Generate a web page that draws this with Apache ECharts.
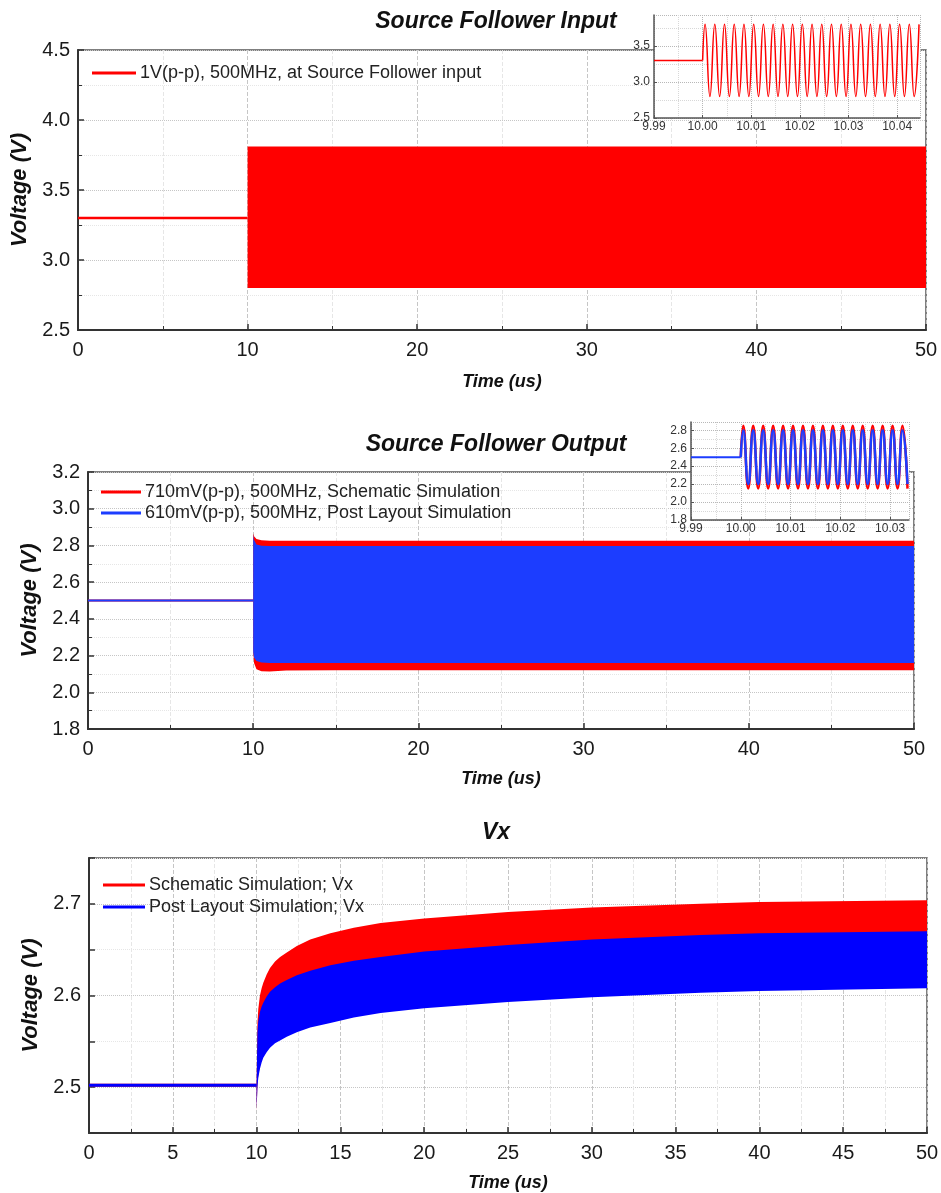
<!DOCTYPE html>
<html>
<head>
<meta charset="utf-8">
<title>Source Follower waveforms</title>
<script src="https://cdn.jsdelivr.net/npm/echarts@6.0.0/dist/echarts.min.js"></script>
<style>
  html, body { margin: 0; padding: 0; background: #fff; }
  #chart { width: 941px; height: 1193px; }
</style>
</head>
<body>
<div id="chart"></div>
<script>
// ---- panel 1 : source follower input ----
const inName = '1V(p-p), 500MHz, at Source Follower input';
const inBaseTime = [0, 10];
const inBaseVolt = [3.3, 3.3];
const inBandTime = [10, 50];
const inBandHigh = [3.81, 3.81];
const inBandLow = [2.8, 2.8];

// inset 1 (zoom around 10 us) : flat level then the sine peaks / troughs
const in1BaseTime = [9.99, 10.0];
const in1BaseVolt = [3.3, 3.3];
const in1Time = [10.0, 10.0005, 10.0015, 10.0025, 10.0035, 10.0045, 10.0055, 10.0065, 10.0075, 10.0085, 10.0095,
  10.0105, 10.0115, 10.0125, 10.0135, 10.0145, 10.0155, 10.0165, 10.0175, 10.0185, 10.0195,
  10.0205, 10.0215, 10.0225, 10.0235, 10.0245, 10.0255, 10.0265, 10.0275, 10.0285, 10.0295,
  10.0305, 10.0315, 10.0325, 10.0335, 10.0345, 10.0355, 10.0365, 10.0375, 10.0385, 10.0395,
  10.0405, 10.0415, 10.0425, 10.0435, 10.0445];
const in1Volt = [3.3, 3.8, 2.8, 3.8, 2.8, 3.8, 2.8, 3.8, 2.8, 3.8, 2.8,
  3.8, 2.8, 3.8, 2.8, 3.8, 2.8, 3.8, 2.8, 3.8, 2.8,
  3.8, 2.8, 3.8, 2.8, 3.8, 2.8, 3.8, 2.8, 3.8, 2.8,
  3.8, 2.8, 3.8, 2.8, 3.8, 2.8, 3.8, 2.8, 3.8, 2.8,
  3.8, 2.8, 3.8, 2.8, 3.8];

// ---- panel 2 : source follower output ----
const outSchName = '710mV(p-p), 500MHz, Schematic Simulation';
const outPostName = '610mV(p-p), 500MHz, Post Layout Simulation';
const outBaseTime = [0, 10];
const outBaseVolt = [2.5, 2.5];
const outBandTime = [10, 10.05, 10.2, 10.5, 11, 12, 15, 30, 50];
const outSchHigh = [2.866, 2.85, 2.835, 2.828, 2.826, 2.826, 2.826, 2.826, 2.826];
const outSchLow = [2.23, 2.16, 2.125, 2.115, 2.113, 2.118, 2.12, 2.12, 2.12];
const outPostHigh = [2.86, 2.83, 2.805, 2.798, 2.797, 2.797, 2.797, 2.797, 2.797];
const outPostLow = [2.22, 2.19, 2.17, 2.162, 2.16, 2.16, 2.16, 2.16, 2.16];

// inset 2
const in2BaseTime = [9.99, 10.0];
const in2BaseVolt = [2.5, 2.5];
const in2Time = [10.0, 10.0005, 10.0015, 10.0025, 10.0035, 10.0045, 10.0055, 10.0065, 10.0075, 10.0085, 10.0095,
  10.0105, 10.0115, 10.0125, 10.0135, 10.0145, 10.0155, 10.0165, 10.0175, 10.0185, 10.0195,
  10.0205, 10.0215, 10.0225, 10.0235, 10.0245, 10.0255, 10.0265, 10.0275, 10.0285, 10.0295,
  10.0305, 10.0315, 10.0325, 10.0335];
const in2SchVolt = [2.5, 2.85, 2.15, 2.85, 2.15, 2.85, 2.15, 2.85, 2.15, 2.85, 2.15,
  2.85, 2.15, 2.85, 2.15, 2.85, 2.15, 2.85, 2.15, 2.85, 2.15,
  2.85, 2.15, 2.85, 2.15, 2.85, 2.15, 2.85, 2.15, 2.85, 2.15,
  2.85, 2.15, 2.85, 2.15];
const in2PostVolt = [2.5, 2.8, 2.2, 2.8, 2.2, 2.8, 2.2, 2.8, 2.2, 2.8, 2.2,
  2.8, 2.2, 2.8, 2.2, 2.8, 2.2, 2.8, 2.2, 2.8, 2.2,
  2.8, 2.2, 2.8, 2.2, 2.8, 2.2, 2.8, 2.2, 2.8, 2.2,
  2.8, 2.2, 2.8, 2.2];

// ---- panel 3 : Vx ----
const vxSchName = 'Schematic Simulation; Vx';
const vxPostName = 'Post Layout Simulation; Vx';
const vxBaseTime = [0, 10];
const vxBaseVolt = [2.502, 2.502];
const vxBandTime = [10, 10.05, 10.1, 10.2, 10.3, 10.4, 10.6, 10.8, 11.1, 11.4, 11.8, 12.4, 13.2, 14.4, 15.8, 17.4, 20, 25, 30, 36.5, 40, 50];
const vxSchHigh = [2.502, 2.57, 2.585, 2.6, 2.608, 2.614, 2.623, 2.63, 2.637, 2.642, 2.647, 2.654, 2.661, 2.668, 2.674, 2.679, 2.684, 2.691, 2.696, 2.7, 2.702, 2.704];
const vxSchLow = [2.474, 2.503, 2.513, 2.523, 2.53, 2.535, 2.541, 2.546, 2.551, 2.554, 2.558, 2.563, 2.568, 2.573, 2.579, 2.584, 2.589, 2.596, 2.601, 2.606, 2.608, 2.611];
const vxPostHigh = [2.502, 2.56, 2.572, 2.582, 2.588, 2.592, 2.599, 2.604, 2.609, 2.613, 2.617, 2.622, 2.627, 2.633, 2.638, 2.642, 2.648, 2.655, 2.661, 2.666, 2.668, 2.67];
const vxPostLow = [2.476, 2.5, 2.51, 2.52, 2.527, 2.532, 2.538, 2.543, 2.548, 2.551, 2.555, 2.56, 2.565, 2.57, 2.576, 2.581, 2.586, 2.593, 2.598, 2.603, 2.605, 2.608];

const RED = '#ff0000';
const BLUE2 = '#1c3dff';
const BLUE3 = '#0000ff';
const FONT = "'Liberation Sans', Arial, sans-serif";

const pairs = (xs, ys) => xs.map((x, i) => [x, ys[i]]);

// filled envelope drawn through the axes (the 500MHz carrier is too dense to draw point by point)
function band(name, gi, times, high, low, color, z) {
  return {
    name: name, type: 'custom', xAxisIndex: gi, yAxisIndex: gi, z: z, silent: true,
    data: times.map((t, i) => [t, high[i], low[i]]),
    encode: { x: 0, y: [1, 2] },
    renderItem: (params, api) => {
      if (params.dataIndex !== 0) return null;
      const top = times.map((t, i) => api.coord([t, high[i]]));
      const bottom = times.map((t, i) => api.coord([t, low[i]])).reverse();
      return { type: 'polygon', shape: { points: top.concat(bottom) }, style: { fill: color } };
    }
  };
}

function line(name, gi, xs, ys, color, width, z, smooth) {
  return {
    name: name, type: 'line', xAxisIndex: gi, yAxisIndex: gi, z: z,
    data: pairs(xs, ys), showSymbol: false, symbol: 'none', silent: true,
    smooth: smooth ? 0.5 : false, animation: false,
    lineStyle: { color: color, width: width }, itemStyle: { color: color }
  };
}

const nameStyle = { fontFamily: FONT, fontSize: 18, fontWeight: 'bold', fontStyle: 'italic', color: '#111' };
const labelStyle = { fontFamily: FONT, fontSize: 20, color: '#1a1a1a' };

function mainX(gi, interval, nameGap) {
  return {
    type: 'value', gridIndex: gi, min: 0, max: 50, interval: interval,
    name: 'Time (us)', nameLocation: 'middle', nameGap: nameGap, nameTextStyle: nameStyle,
    axisLine: { show: true, onZero: false, lineStyle: { color: '#333', width: 2 } },
    axisTick: { show: true, inside: true, length: 6, lineStyle: { color: '#333', width: 1.5 } },
    minorTick: { show: true, splitNumber: 2, length: 4, lineStyle: { color: '#333', width: 1 } },
    axisLabel: Object.assign({ margin: 10 }, labelStyle),
    splitLine: { show: true, lineStyle: { color: '#c6c6c6', type: 'dashed', width: 1 } },
    minorSplitLine: { show: true, lineStyle: { color: '#e6e6e6', type: 'dashed', width: 1 } }
  };
}

function mainY(gi, min, max, interval, nameGap) {
  return {
    type: 'value', gridIndex: gi, min: min, max: max, interval: interval,
    name: 'Voltage (V)', nameLocation: 'middle', nameGap: nameGap,
    nameTextStyle: Object.assign({}, nameStyle, { fontSize: 22 }),
    axisLine: { show: true, onZero: false, lineStyle: { color: '#333', width: 2 } },
    axisTick: { show: true, inside: true, length: 6, lineStyle: { color: '#333', width: 1.5 } },
    minorTick: { show: true, splitNumber: 2, length: 4, lineStyle: { color: '#333', width: 1 } },
    axisLabel: Object.assign({ margin: 8, formatter: v => v.toFixed(1) }, labelStyle),
    splitLine: { show: true, lineStyle: { color: '#c6c6c6', type: 'dotted', width: 1 } },
    minorSplitLine: { show: true, lineStyle: { color: '#e6e6e6', type: 'dotted', width: 1 } }
  };
}

function insetX(gi, min, max) {
  return {
    type: 'value', gridIndex: gi, min: min, max: max, interval: 0.01, z: 6,
    axisLine: { show: true, onZero: false, lineStyle: { color: '#555', width: 1.5 } },
    axisTick: { show: true, inside: true, length: 3, lineStyle: { color: '#555' } },
    axisLabel: { fontFamily: FONT, fontSize: 12, color: '#333', margin: 3, formatter: v => v.toFixed(2) },
    splitLine: { show: true, lineStyle: { color: '#b8b8b8', type: 'dotted', width: 1 } },
    minorSplitLine: { show: true, lineStyle: { color: '#d8d8d8', type: 'dotted', width: 1 } },
    minorTick: { show: false, splitNumber: 2 }
  };
}

function insetY(gi, min, max, interval) {
  return {
    type: 'value', gridIndex: gi, min: min, max: max, interval: interval, z: 6,
    axisLine: { show: true, onZero: false, lineStyle: { color: '#555', width: 1.5 } },
    axisTick: { show: true, inside: true, length: 3, lineStyle: { color: '#555' } },
    axisLabel: { fontFamily: FONT, fontSize: 12, color: '#333', margin: 4, showMaxLabel: false, formatter: v => v.toFixed(1) },
    splitLine: { show: true, lineStyle: { color: '#b8b8b8', type: 'dotted', width: 1 } },
    minorSplitLine: { show: true, lineStyle: { color: '#d8d8d8', type: 'dotted', width: 1 } },
    minorTick: { show: false, splitNumber: 2 }
  };
}

const mainGrid = (left, top, width, height) => ({
  left: left, top: top, width: width, height: height, show: true,
  borderColor: '#555', borderWidth: 1.5, backgroundColor: 'transparent', outerBoundsMode: 'none'
});
const insetGrid = (left, top, width, height) => ({
  left: left, top: top, width: width, height: height, show: true, z: 5,
  borderWidth: 0, backgroundColor: '#fff', outerBoundsMode: 'none'
});

const legendBox = (left, top, names, gap, width) => ({
  left: left, top: top, orient: 'vertical', itemGap: gap, icon: 'rect', padding: 0,
  itemWidth: width, itemHeight: 3, selectedMode: false,
  textStyle: { fontFamily: FONT, fontSize: 18, color: '#222', padding: [0, 0, 0, -1] },
  data: names
});

const titleBox = (text, top) => ({
  text: text, left: 496, top: top, textAlign: 'center', padding: 0,
  textStyle: { fontFamily: FONT, fontSize: 23, fontWeight: 'bold', fontStyle: 'italic', color: '#111' }
});

// panel 3 y axis: ticks every 0.05, labels only on the tenths
const vxY = mainY(2, 2.45, 2.75, 0.05, 41);
vxY.axisLabel.formatter = v => (Math.abs(v * 10 - Math.round(v * 10)) < 1e-6 ? v.toFixed(1) : '');
vxY.splitLine.lineStyle.color = ['#e6e6e6', '#c6c6c6'];
vxY.minorTick.show = false;
vxY.minorSplitLine.show = false;

const chart = echarts.init(document.getElementById('chart'));
chart.setOption({
  animation: false,
  backgroundColor: '#fff',
  title: [
    titleBox('Source Follower Input', 10),
    titleBox('Source Follower Output', 433),
    titleBox('Vx', 821)
  ],
  legend: [
    legendBox(92, 64, [inName], 4, 44),
    legendBox(101, 483, [outSchName, outPostName], 3, 40),
    legendBox(103, 876, [vxSchName, vxPostName], 4, 42)
  ],
  grid: [
    mainGrid(78, 50, 848, 280),
    mainGrid(88, 472, 826, 257),
    mainGrid(89, 858, 838, 275),
    insetGrid(654, 15, 266, 103),
    insetGrid(691, 422, 218, 98)
  ],
  xAxis: [
    mainX(0, 10, 43),
    mainX(1, 10, 41),
    mainX(2, 5, 41),
    insetX(3, 9.99, 10.0447),
    insetX(4, 9.99, 10.0338)
  ],
  yAxis: [
    mainY(0, 2.5, 4.5, 0.5, 44),
    mainY(1, 1.8, 3.2, 0.2, 46),
    vxY,
    insetY(3, 2.5, 3.93, 0.5),
    insetY(4, 1.8, 2.892, 0.2)
  ],
  series: [
    line(inName, 0, inBaseTime, inBaseVolt, RED, 2.5, 3),
    band(inName, 0, inBandTime, inBandHigh, inBandLow, RED, 2),

    line(outSchName, 1, outBaseTime, outBaseVolt, RED, 2, 2),
    line(outPostName, 1, outBaseTime, outBaseVolt, BLUE2, 2, 4),
    band(outSchName, 1, outBandTime, outSchHigh, outSchLow, RED, 2),
    band(outPostName, 1, outBandTime, outPostHigh, outPostLow, BLUE2, 3),

    line(vxSchName, 2, vxBaseTime, vxBaseVolt, RED, 3, 2),
    line(vxPostName, 2, vxBaseTime, vxBaseVolt, BLUE3, 3, 4),
    band(vxSchName, 2, vxBandTime, vxSchHigh, vxSchLow, RED, 2),
    band(vxPostName, 2, vxBandTime, vxPostHigh, vxPostLow, BLUE3, 3),

    line('in1 base', 3, in1BaseTime, in1BaseVolt, RED, 1.5, 7),
    line('in1 wave', 3, in1Time, in1Volt, RED, 1.5, 7, true),

    line('in2 base', 4, in2BaseTime, in2BaseVolt, BLUE2, 2, 8),
    line('in2 sch', 4, in2Time, in2SchVolt, RED, 2.5, 7, true),
    line('in2 post', 4, in2Time, in2PostVolt, BLUE2, 2.5, 8, true)
  ]
});
</script>
</body>
</html>
